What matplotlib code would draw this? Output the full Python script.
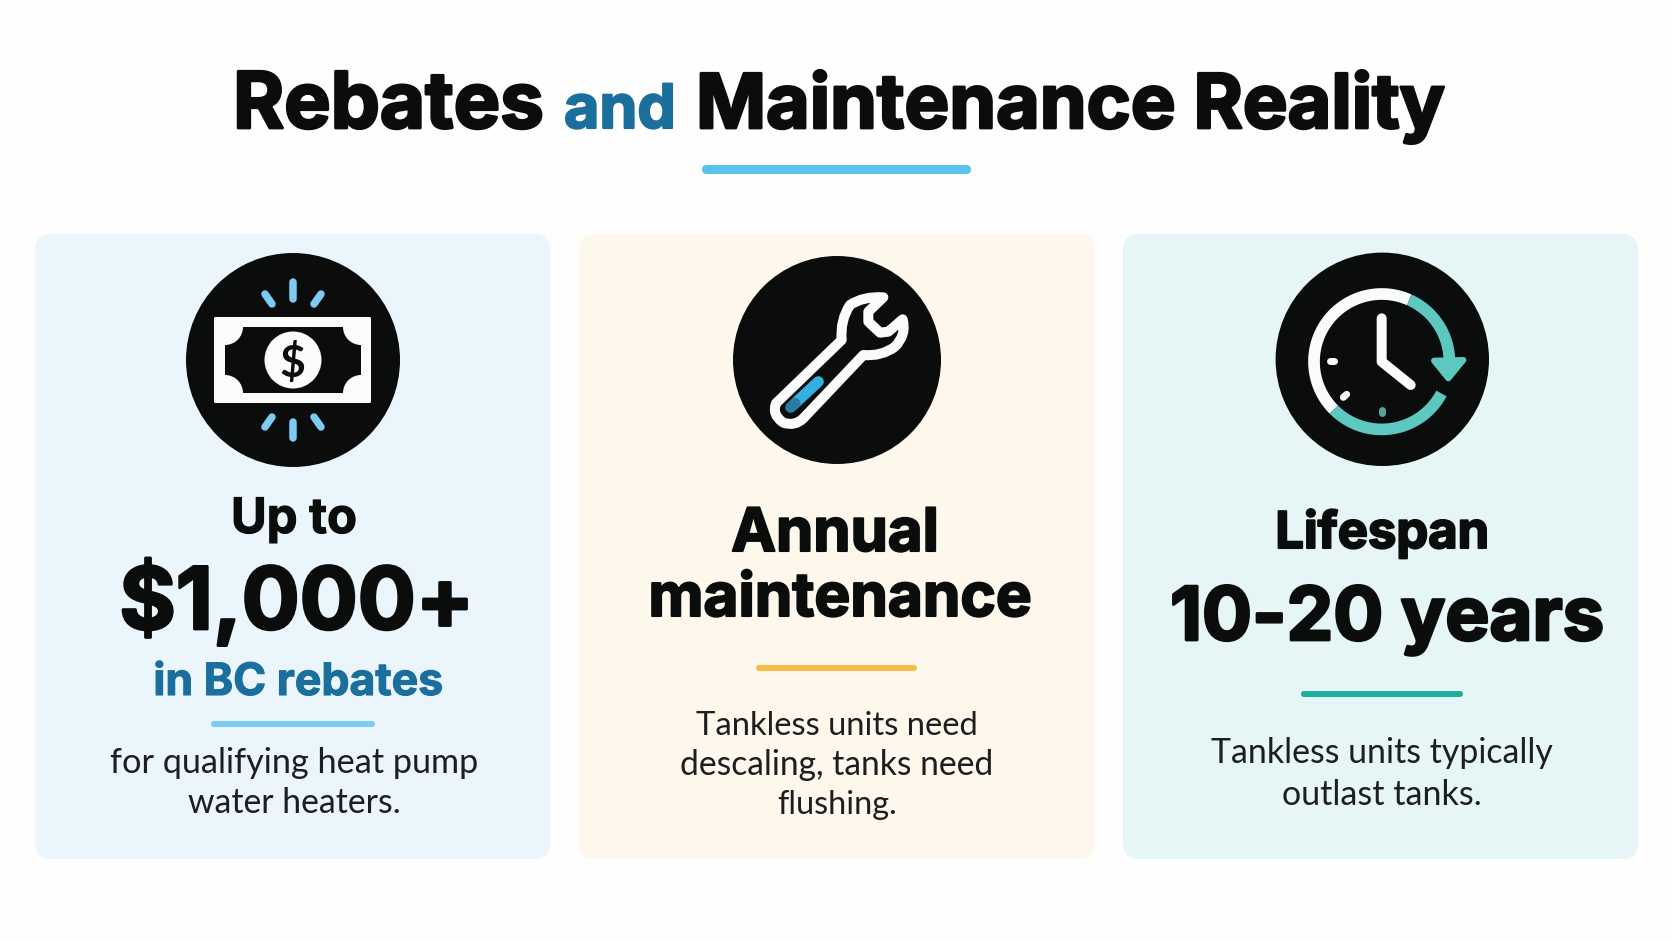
import numpy as np
import matplotlib
matplotlib.use('Agg')
import matplotlib.pyplot as plt
import matplotlib.patheffects as pe
from matplotlib.patches import Circle, FancyBboxPatch, Polygon, PathPatch, Rectangle
from matplotlib.path import Path

# 文字内容
TITLE_PARTS = ['Rebates', 'and', 'Maintenance Reality']
CARD1_HEAD = ['Up to', '$1,000+', 'in BC rebates']
CARD1_BODY = ['for qualifying heat pump', 'water heaters.']
CARD2_HEAD = ['Annual', 'maintenance']
CARD2_BODY = ['Tankless units need', 'descaling, tanks need', 'flushing.']
CARD3_HEAD = ['Lifespan', '10-20 years']
CARD3_BODY = ['Tankless units typically', 'outlast tanks.']

# 颜色
BLACK = '#0B0C0C'
WHITE = '#FAFBFB'
BLUE_DARK = '#1B6F9C'
BLUE_LIGHT = '#7CCBF0'
SKY = '#5AC3EC'
AMBER = '#F5BE4B'
TEAL = '#1FAE9E'
TEAL_ICON = '#5CC8C0'
BODY_COLOR = '#1C1E1F'

HEAD_FONT = 'Inter'
BODY_FONT = 'Lato'

W, H = 1672, 941
fig = plt.figure(figsize=(W / 100, H / 100), dpi=100, facecolor='#FEFEFE')
ax = fig.add_axes([0, 0, 1, 1])
ax.set_xlim(0, W)
ax.set_ylim(H, 0)
ax.axis('off')
PX = 0.72  # 像素转磅


def fit_text(s, width, baseline, x=None, left=None, color=BLACK, weight='bold', family=HEAD_FONT, stroke=0):
    """写一行文字，并把字号调整到目标宽度"""
    t = ax.text(x if x is not None else left, baseline, s, color=color, fontweight=weight, family=family,
                ha='center' if x is not None else 'left', va='baseline', fontsize=30)
    r = fig.canvas.get_renderer()
    w0 = t.get_window_extent(r).width
    t.set_fontsize(30 * width / w0)
    if stroke:
        t.set_path_effects([pe.withStroke(linewidth=stroke, foreground=color)])
    return t


def body_text(s, width, baseline, x):
    return fit_text(s, width, baseline, x=x, color=BODY_COLOR, weight='normal', family=BODY_FONT)


def line(xs, ys, color, lw, cap='round', z=5):
    ax.plot(xs, ys, color=color, lw=lw * PX, solid_capstyle=cap, solid_joinstyle='round', zorder=z)


def arc(cx, cy, r, a0, a1, color, lw, cap='round'):
    a = np.radians(np.linspace(a0, a1, 80))
    line(cx + r * np.cos(a), cy - r * np.sin(a), color, lw, cap)


def card(x0, x1, color):
    ax.add_patch(FancyBboxPatch((x0 + 16, 234 + 16), x1 - x0 - 32, 859 - 234 - 32,
                                boxstyle='round,pad=16,rounding_size=16', fc=color, ec='none', zorder=1))


def bar(x0, x1, y0, y1, color):
    h = y1 - y0
    ax.add_patch(FancyBboxPatch((x0 + h / 2, y0 + h / 2), x1 - x0 - h, 0.01,
                                boxstyle=f'round,pad={h / 2},rounding_size={h / 2}', fc=color, ec='none', zorder=3))


# 卡片
card(35, 550, '#EAF5FC')
card(579, 1095, '#FDF7EC')
card(1123, 1638, '#E6F5F6')

# 标题
fit_text(TITLE_PARTS[0], 311, 128, left=233, stroke=2)
fit_text(TITLE_PARTS[1], 112, 128, left=564, color=BLUE_DARK, stroke=1.5)
fit_text(TITLE_PARTS[2], 750, 128, left=696, stroke=2)
bar(702, 971, 165, 174, SKY)

# 图标一：钞票
ax.add_patch(Circle((293, 360), 107, fc=BLACK, ec='none', zorder=2))
bill = FancyBboxPatch((216, 319), 153, 82, boxstyle='round,pad=2,rounding_size=2', fc=WHITE, ec='none', zorder=3)
ax.add_patch(bill)
ax.add_patch(Rectangle((225, 327), 136, 66, fc=BLACK, ec='none', zorder=4))
for cx in (225, 361):
    for cy in (327, 393):
        notch = Circle((cx, cy), 18, fc=WHITE, ec='none', zorder=4.5)
        ax.add_patch(notch)
        notch.set_clip_path(bill)
ax.add_patch(Circle((293, 360), 28.5, fc=WHITE, ec='none', zorder=5))
ax.text(292, 360, '$', color=BLACK, fontsize=32, fontweight='bold', family='Lato',
        ha='center', va='center_baseline', zorder=6)
for xs, ys in [((293, 293), (282, 299)), ((265, 272), (294, 304)), ((321, 314), (294, 304)),
               ((293, 293), (422, 438)), ((272, 265), (417, 427)), ((314, 321), (417, 427))]:
    line(xs, ys, BLUE_LIGHT, 7.5)

# 图标二：扳手
ax.add_patch(Circle((837, 360), 104, fc=BLACK, ec='none', zorder=2))
zoom_x = lambda v: 700 + v / 3
zoom_y = lambda v: 240 + v / 3
wrench = [(Path.MOVETO, (228, 490)), (Path.LINETO, (425, 300)),
          (Path.CURVE3, (420, 240)), (Path.CURVE3, (450, 195)), (Path.CURVE3, (490, 168)), (Path.CURVE3, (550, 172)),
          (Path.LINETO, (505, 215)), (Path.LINETO, (505, 245)), (Path.LINETO, (540, 278)), (Path.LINETO, (565, 275)),
          (Path.LINETO, (608, 238)),
          (Path.CURVE3, (620, 285)), (Path.CURVE3, (585, 320)), (Path.CURVE3, (545, 350)), (Path.CURVE3, (490, 345)),
          (Path.LINETO, (310, 535)),
          (Path.CURVE3, (285, 560)), (Path.CURVE3, (250, 548)), (Path.CURVE3, (215, 525)), (Path.CURVE3, (228, 490)),
          (Path.CLOSEPOLY, (228, 490))]
codes = [c for c, _ in wrench]
verts = [(zoom_x(p[0]), zoom_y(p[1])) for _, p in wrench]
ax.add_patch(PathPatch(Path(verts, codes), fc=BLACK, ec=WHITE, lw=10 * PX, joinstyle='round', zorder=3))
line([zoom_x(285), zoom_x(355)], [zoom_y(490), zoom_y(425)], '#35AEE0', 11)
line([zoom_x(272), zoom_x(285)], [zoom_y(502), zoom_y(490)], '#2A7DA0', 11)

# 图标三：时钟
ax.add_patch(Circle((1382.3, 359.3), 106.7, fc=BLACK, ec='none', zorder=2))
rc_x, rc_y = 1381.7, 361.7
arc(rc_x, rc_y, 67.7, 66, 225, WHITE, 11.7, cap='butt')
arc(rc_x, rc_y, 67.7, 66, 0, TEAL_ICON, 11.7, cap='butt')
arc(rc_x, rc_y, 67.7, 225, 332, TEAL_ICON, 11.7, cap='butt')
line([1250 + 578 / 3], [240 + 458 / 3], TEAL_ICON, 11.7)
ax.add_patch(Polygon([(1250 + 552 / 3, 240 + 362 / 3), (1250 + 640 / 3, 240 + 360 / 3), (1250 + 595 / 3, 240 + 415 / 3)],
                     closed=True, fc=TEAL_ICON, ec=TEAL_ICON, lw=6 * PX, joinstyle='round', zorder=5))
line([1250 + 395 / 3, 1250 + 395 / 3, 1250 + 482 / 3], [240 + 235 / 3, 240 + 365 / 3, 240 + 435 / 3], WHITE, 10)
line([1250 + 240 / 3, 1250 + 252 / 3], [240 + 363 / 3, 240 + 363 / 3], WHITE, 7)
line([1250 + 280 / 3, 1250 + 290 / 3], [240 + 472 / 3, 240 + 463 / 3], WHITE, 7)
line([1250 + 395 / 3, 1250 + 395 / 3], [240 + 511 / 3, 240 + 520 / 3], '#5F9F9A', 7)

# 卡片一文字
fit_text(CARD1_HEAD[0], 126, 533, x=294, stroke=0.8)
fit_text(CARD1_HEAD[1], 354, 629, x=297, stroke=2)
fit_text(CARD1_HEAD[2], 290, 695, x=298, color=BLUE_DARK, stroke=0.8)
bar(211, 375, 721, 727, BLUE_LIGHT)
body_text(CARD1_BODY[0], 369, 773, 294)
body_text(CARD1_BODY[1], 212, 813, 294)

# 卡片二文字
fit_text(CARD2_HEAD[0], 208, 551, x=835, stroke=1.5)
fit_text(CARD2_HEAD[1], 384, 616, x=840, stroke=1.5)
bar(756, 917, 665, 671, AMBER)
body_text(CARD2_BODY[0], 282, 735, 837)
body_text(CARD2_BODY[1], 313, 775, 837)
body_text(CARD2_BODY[2], 120, 814, 837)

# 卡片三文字
fit_text(CARD3_HEAD[0], 214, 548, x=1382, stroke=1.5)
fit_text(CARD3_HEAD[1], 434, 640, x=1387, stroke=2)
bar(1301, 1463, 691, 697, TEAL)
body_text(CARD3_BODY[0], 341, 763, 1382)
body_text(CARD3_BODY[1], 199, 805, 1382)

fig.savefig('out.png', dpi=100, facecolor=fig.get_facecolor())
